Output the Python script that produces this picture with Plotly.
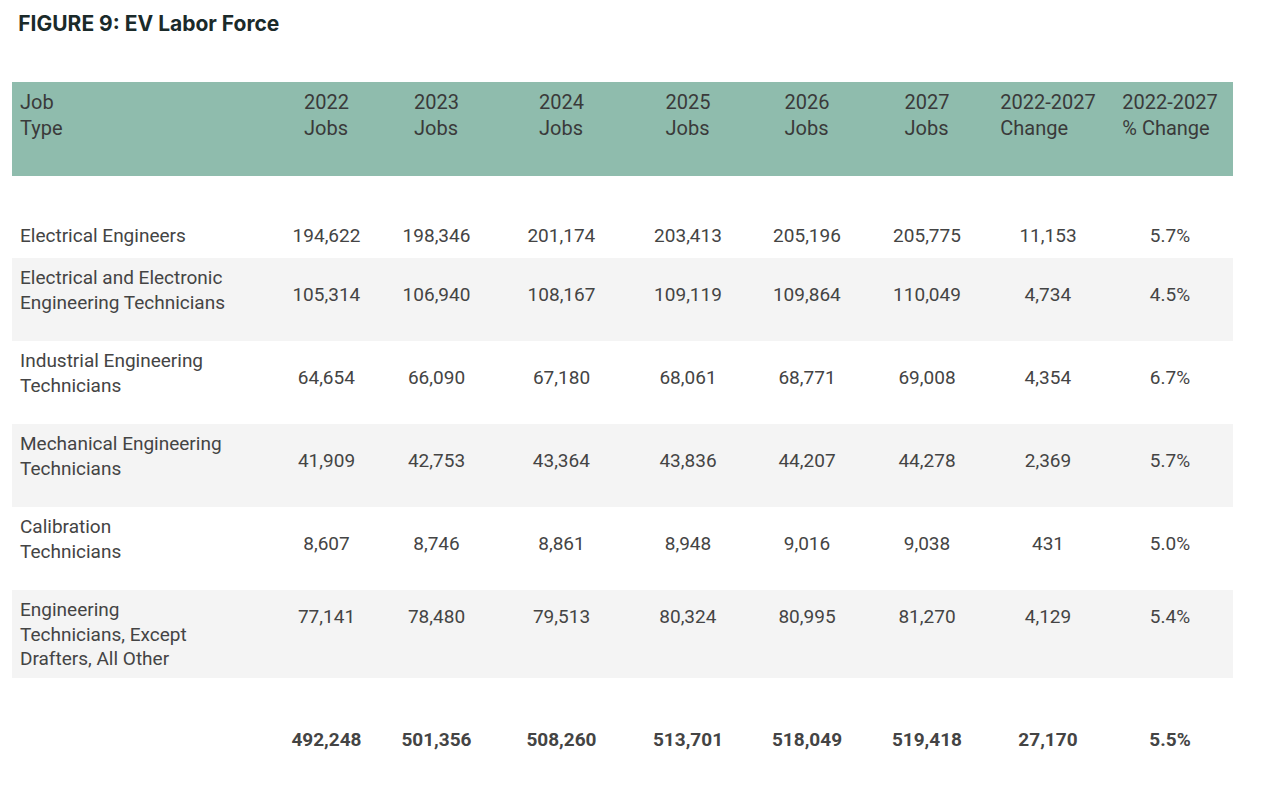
import plotly.graph_objects as go

job_types = [
    "Electrical Engineers",
    "Electrical and Electronic<br>Engineering Technicians",
    "Industrial Engineering<br>Technicians",
    "Mechanical Engineering<br>Technicians",
    "Calibration<br>Technicians",
    "Engineering<br>Technicians, Except<br>Drafters, All Other",
    "",
]
jobs_2022 = ["194,622", "105,314", "64,654", "41,909", "8,607", "77,141", "<b>492,248</b>"]
jobs_2023 = ["198,346", "106,940", "66,090", "42,753", "8,746", "78,480", "<b>501,356</b>"]
jobs_2024 = ["201,174", "108,167", "67,180", "43,364", "8,861", "79,513", "<b>508,260</b>"]
jobs_2025 = ["203,413", "109,119", "68,061", "43,836", "8,948", "80,324", "<b>513,701</b>"]
jobs_2026 = ["205,196", "109,864", "68,771", "44,207", "9,016", "80,995", "<b>518,049</b>"]
jobs_2027 = ["205,775", "110,049", "69,008", "44,278", "9,038", "81,270", "<b>519,418</b>"]
change = ["11,153", "4,734", "4,354", "2,369", "431", "4,129", "<b>27,170</b>"]
pct_change = ["5.7%", "4.5%", "6.7%", "5.7%", "5.0%", "5.4%", "<b>5.5%</b>"]

headers = [
    "Job<br>Type", "2022<br>Jobs", "2023<br>Jobs", "2024<br>Jobs", "2025<br>Jobs",
    "2026<br>Jobs", "2027<br>Jobs", "2022-2027<br>Change", "2022-2027<br>% Change",
]

# small spacer lines so the text sits near the middle of each row
half = "<span style='font-size:11px'> </span><br>"
pad_label = [half + half, "", "", "", "", "", half + half]
pad_value = [half + half, half, half, half, half, "<br>", half + half]


def padded(col, pads):
    return [p + v for p, v in zip(pads, col)]


row_fill = ["white", "#f4f4f4", "white", "#f4f4f4", "white", "#f4f4f4", "white"]

value_cols = [jobs_2022, jobs_2023, jobs_2024, jobs_2025, jobs_2026, jobs_2027, change, pct_change]

fig = go.Figure(go.Table(
    columnwidth=[263, 103, 117, 133, 120, 118, 122, 120, 124],
    header=dict(
        values=headers,
        fill_color="#8fbcad",
        line_color="#8fbcad",
        align=["left"] + ["center"] * 8,
        font=dict(family="Roboto", size=20, color="#3a3a3a"),
        height=93,
    ),
    cells=dict(
        values=[padded(job_types, pad_label)] + [padded(c, pad_value) for c in value_cols],
        fill_color=[row_fill] * 9,
        line_color=[row_fill] * 9,
        align=["left"] + ["center"] * 8,
        font=dict(family="Roboto", size=19, color="#444444"),
        height=83,
    ),
))

fig.update_layout(
    width=1280, height=788,
    margin=dict(l=4, r=56, t=74, b=10),
    paper_bgcolor="white",
    title=dict(
        text="<b>FIGURE 9: EV Labor Force</b>",
        x=0.008, xanchor="left", y=0.99, yanchor="top",
        font=dict(family="Inter", size=21, color="#1a2a2a"),
    ),
)

fig.write_html("out.html")
